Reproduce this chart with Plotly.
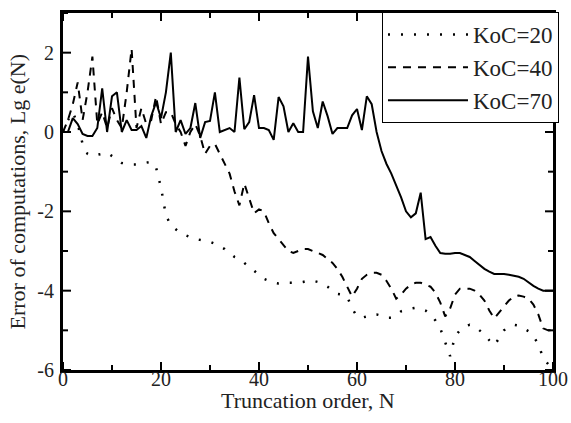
import plotly.graph_objs as go

# truncation order N
N = list(range(101))

# KoC=20 (dotted), N = 0..99
koc20 = [0.0, 0.3, 0.5, 0.2, -0.3, -0.55, -0.6, -0.58, -0.55, -0.52,
         -0.6, -0.7, -0.78, -0.8, -0.82, -0.82, -0.8, -0.77, -0.75, -0.9,
         -1.4, -2.1, -2.35, -2.45, -2.55, -2.6, -2.65, -2.7, -2.72, -2.75,
         -2.77, -2.82, -2.88, -2.95, -3.05, -3.15, -3.2, -3.3, -3.42, -3.52,
         -3.62, -3.7, -3.75, -3.8, -3.82, -3.82, -3.8, -3.8, -3.8, -3.78,
         -3.75, -3.75, -3.78, -3.83, -3.9, -4.0, -4.08, -4.1, -4.15, -4.45,
         -4.65, -4.68, -4.65, -4.6, -4.6, -4.63, -4.68, -4.68, -4.62, -4.52,
         -4.48, -4.45, -4.43, -4.45, -4.5, -4.6, -4.75, -4.95, -5.3, -5.65,
         -5.15, -5.0, -4.9, -4.86, -4.9, -5.0, -5.1, -5.25, -5.38, -5.2,
         -5.0, -4.9, -4.86, -4.88, -4.95, -5.02, -5.15, -5.35, -5.7, -5.85]

# KoC=40 (dashed), N = 0..100
koc40 = [0.0, 0.3, 0.7, 1.25, 0.3, 1.0, 1.9, 0.2, 0.5, 0.1,
         0.6, 0.3, 0.1, 1.0, 2.1, 0.1, 0.6, 0.2, 0.3, 0.9,
         0.2, 0.5, 0.5, 0.2, 0.0, -0.35, 0.0, 0.2, -0.1, -0.55,
         -0.35, -0.3, -0.55, -0.8, -1.05, -1.5, -1.85, -1.3, -1.65, -2.05,
         -1.95, -2.0, -2.3, -2.55, -2.7, -2.85, -3.0, -3.05, -3.0, -2.95,
         -2.95, -3.0, -3.05, -3.1, -3.2, -3.3, -3.45, -3.65, -3.9, -4.15,
         -3.95, -3.7, -3.6, -3.55, -3.55, -3.6, -3.75, -3.95, -4.2, -4.1,
         -3.95, -3.85, -3.8, -3.8, -3.85, -3.9, -4.05, -4.3, -4.65, -4.45,
         -4.1, -3.95, -3.95, -3.95, -4.0, -4.1, -4.25, -4.5, -4.7, -4.55,
         -4.4, -4.25, -4.15, -4.12, -4.15, -4.2, -4.35, -4.6, -4.95, -5.0,
         -5.0]

# KoC=70 (solid), N = 0..100
koc70 = [0.0, 0.0, 0.35, 0.2, -0.05, -0.1, -0.1, 0.1, 1.1, 0.0,
         0.9, 1.0, 0.0, 0.3, 0.05, 0.05, 0.15, -0.15, 0.4, 0.75,
         0.35, 1.0, 2.0, 0.0, 0.3, -0.05, 0.1, 0.73, -0.15, 0.25,
         0.28, 1.0, 0.0, 0.05, 0.1, 0.0, 1.37, 0.07, 0.25, 0.93,
         0.1, 0.1, 0.05, -0.2, 0.88, 0.65, 0.0, 0.22, 0.0, 0.0,
         1.9, 0.52, 0.1, 0.77, 0.4, -0.05, 0.1, 0.1, 0.1, 0.42,
         0.58, 0.05, 0.9, 0.7, 0.0, -0.48, -0.8, -1.05, -1.35, -1.65,
         -2.0, -2.15, -2.05, -1.53, -2.7, -2.65, -2.87, -3.05, -3.07, -3.07,
         -3.05, -3.05, -3.1, -3.15, -3.25, -3.35, -3.45, -3.52, -3.58, -3.58,
         -3.58, -3.6, -3.62, -3.65, -3.7, -3.8, -3.88, -3.95, -4.0, -4.0,
         -4.0]

# tick positions (labels only every other one)
x_ticks = [0, 10, 20, 30, 40, 50, 60, 70, 80, 90, 100]
x_labels = ["0", "", "20", "", "40", "", "60", "", "80", "", "100"]
y_ticks = [-6, -5, -4, -3, -2, -1, 0, 1, 2, 3]
y_labels = ["-6", "", "-4", "", "-2", "", "0", "", "2", ""]

serif = "Liberation Serif, Times New Roman, serif"

fig = go.Figure()
fig.add_trace(go.Scatter(x=N[:len(koc20)], y=koc20, mode="lines", name="KoC=20",
                         line=dict(color="black", width=2.5, dash="2px,11px")))
fig.add_trace(go.Scatter(x=N[:len(koc40)], y=koc40, mode="lines", name="KoC=40",
                         line=dict(color="black", width=2, dash="8px,7px")))
fig.add_trace(go.Scatter(x=N[:len(koc70)], y=koc70, mode="lines", name="KoC=70",
                         line=dict(color="black", width=2)))

axis_style = dict(showgrid=False, zeroline=False, showline=True, linecolor="black",
                  linewidth=3, mirror=True, ticks="", automargin=False,
                  tickfont=dict(family=serif, size=20, color="#222"))

fig.update_layout(
    width=571, height=423,
    margin=dict(l=63, r=18, t=13, b=53),
    paper_bgcolor="white", plot_bgcolor="white",
    font=dict(family=serif, color="#222"),
    xaxis=dict(range=[0, 100], tickmode="array", tickvals=x_ticks, ticktext=x_labels,
               ticklabelstandoff=-11, **axis_style),
    yaxis=dict(range=[-6, 3], tickmode="array", tickvals=y_ticks, ticktext=y_labels,
               ticklabelstandoff=2, **axis_style),
    legend=dict(x=0.651, y=1.003, xanchor="left", yanchor="top",
                bgcolor="white", bordercolor="black", borderwidth=1,
                font=dict(family=serif, size=23, color="#222"),
                itemwidth=80, tracegroupgap=0),
)

# inside tick marks on all four sides (long ones where a label sits)
tick = dict(color="black", width=2)
for v, lab in zip(x_ticks, x_labels):
    n = 8 if lab else 5
    fig.add_shape(type="line", xref="x", yref="paper", ysizemode="pixel",
                  yanchor=0, x0=v, x1=v, y0=0, y1=n, line=tick, layer="above")
    fig.add_shape(type="line", xref="x", yref="paper", ysizemode="pixel",
                  yanchor=1, x0=v, x1=v, y0=0, y1=-n, line=tick, layer="above")
for v, lab in zip(y_ticks, y_labels):
    n = 8 if lab else 5
    fig.add_shape(type="line", xref="paper", yref="y", xsizemode="pixel",
                  xanchor=0, x0=0, x1=n, y0=v, y1=v, line=tick, layer="above")
    fig.add_shape(type="line", xref="paper", yref="y", xsizemode="pixel",
                  xanchor=1, x0=0, x1=-n, y0=v, y1=v, line=tick, layer="above")

# axis titles as annotations so they sit where the original has them
fig.add_annotation(text="Truncation order, N", xref="paper", yref="paper",
                   x=0.5, y=0, yshift=-30, xanchor="center", yanchor="middle",
                   showarrow=False, font=dict(family=serif, size=22, color="#222"))
fig.add_annotation(text="Error of computations, Lg e(N)", xref="paper", yref="paper",
                   x=0, y=0.5, xshift=-46, xanchor="center", yanchor="middle",
                   textangle=-90, showarrow=False,
                   font=dict(family=serif, size=22, color="#222"))

fig.write_html("out.html", config={"displayModeBar": False},
               post_script="document.body.style.margin='0';")
